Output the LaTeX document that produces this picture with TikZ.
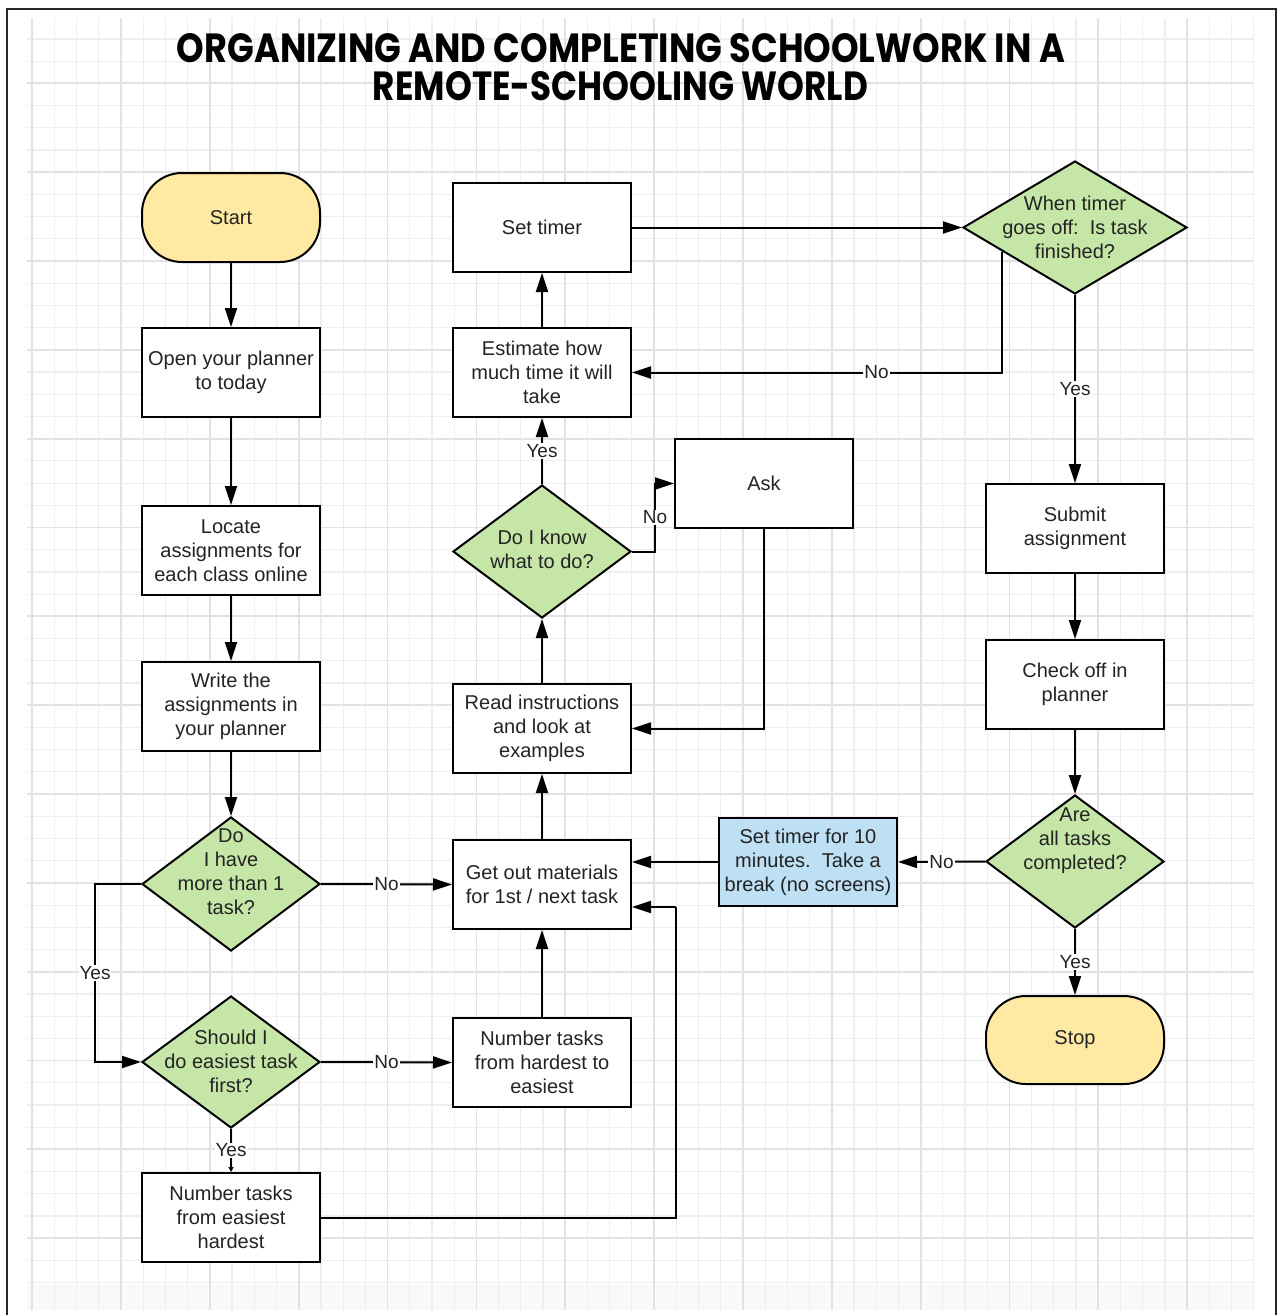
\documentclass[tikz,border=0pt]{standalone}
\usepackage{fontspec}
\setmainfont{Liberation Sans}
\newfontfamily\titlefont{Poppins}
\usetikzlibrary{shapes.geometric,arrows.meta,calc}
\definecolor{gfill}{RGB}{197,230,167}
\definecolor{yel}{RGB}{255,233,163}
\definecolor{blu}{RGB}{190,224,245}
\definecolor{txt}{RGB}{35,35,35}
\definecolor{gmin}{RGB}{238,238,238}
\definecolor{gmaj}{RGB}{226,226,226}
\begin{document}
\begin{tikzpicture}[x=1pt,y=-1pt,
  box/.style={draw=black, line width=2pt, fill=white, minimum width=178pt, minimum height=89pt, align=center, font=\fontsize{20}{24}\selectfont, text=txt, inner sep=2pt},
  term/.style={box, rounded corners=40pt, fill=yel},
  dec/.style={diamond, draw=black, line width=2pt, fill=gfill, inner sep=0pt, minimum width=178pt, minimum height=133pt},
  dtext/.style={align=center, font=\fontsize{20}{24}\selectfont, text=txt, inner sep=0pt},
  arr/.style={line width=2pt, -{Triangle[length=19pt,width=12pt]}},
  plain/.style={line width=2pt},
  lab/.style={fill=white, inner sep=1pt, font=\fontsize{19}{22}\selectfont, text=txt},
  minor/.style={gmin, line width=1.2pt},
  major/.style={gmaj, line width=1.8pt}
]
\useasboundingbox (0,0) rectangle (1279,1315);
% background grid
\fill[white] (0,0) rectangle (1279,1315);
\fill[gray!5] (27,1284) rectangle (1253,1310);
\foreach \k in {0,...,55} \draw[minor] ({32.2+22.21*\k},18) -- ({32.2+22.21*\k},1310);
\foreach \k in {0,...,56} \draw[minor] (27,{38.9+22.21*\k}) -- (1253,{38.9+22.21*\k});
\foreach \j in {0,...,13} \draw[major] ({32.2+88.84*\j},18) -- ({32.2+88.84*\j},1310);
\foreach \j in {0,...,13} \draw[major] (27,{83.3+88.84*\j}) -- (1253,{83.3+88.84*\j});
% frame
\draw[line width=2pt, black!85] (7,1316) -- (7,9) -- (1276,9) -- (1276,1316);
% title
\node (t1) at (621,48.5) {\resizebox{888pt}{29pt}{\titlefont\bfseries ORGANIZING AND COMPLETING SCHOOLWORK IN A}};
\node (t2) at (620.5,86.5) {\resizebox{495pt}{29pt}{\titlefont\bfseries REMOTE-SCHOOLING WORLD}};
% left column
\node[term] (start) at (231,217.5) {Start};
\node[box] (open) at (231,372.5) {Open your planner\\to today};
\node[box] (loc) at (231,550.5) {Locate\\assignments for\\each class online};
\node[box] (write) at (231,706.5) {Write the\\assignments in\\your planner};
\node[dec, minimum height=134pt] (d1) at (231,884) {};
\node[dtext] (d1t) at (231,872) {Do\\I have\\more than 1\\task?};
\node[dec, minimum height=132pt] (d2) at (231,1062) {};
\node[dtext] (d2t) at (231,1061) {Should I\\do easiest task\\first?};
\node[box] (ne) at (231,1217.5) {Number tasks\\from easiest\\hardest};
% middle column
\node[box] (get) at (542,884.5) {Get out materials\\for 1st / next task};
\node[box] (nh) at (542,1062.5) {Number tasks\\from hardest to\\easiest};
\node[box] (read) at (542,728.5) {Read instructions\\and look at\\examples};
\node[dec] (dk) at (542,551.5) {};
\node[dtext] (dkt) at (542,549) {Do I know\\what to do?};
\node[box] (est) at (542,372.5) {Estimate how\\much time it will\\take};
\node[box] (timer) at (542,227.5) {Set timer};
\node[box] (ask) at (764,483.5) {Ask};
\node[box, fill=blu, minimum height=88pt] (s10) at (808,862) {Set timer for 10\\minutes.\ \ Take a\\break (no screens)};
% right column
\node[dec, minimum width=224pt] (wt) at (1075,227.5) {};
\node[dtext] (wtt) at (1075,227) {When timer\\goes off:\ \ Is task\\finished?};
\node[box] (sub) at (1075,528.5) {Submit\\assignment};
\node[box] (chk) at (1075,684.5) {Check off in\\planner};
\node[dec] (are) at (1075,861.5) {};
\node[dtext] (aret) at (1075,841) {Are\\all tasks\\completed?};
\node[term, minimum height=88pt] (stop) at (1075,1040) {Stop};
% helper coordinates
\coordinate (wp) at ($(wt.west)!0.357!(wt.south)$);
\coordinate (c1) at (676,907);
% connectors
\draw[arr] (start) -- (open);
\draw[arr] (open) -- (loc);
\draw[arr] (loc) -- (write);
\draw[arr] (write) -- (d1.north);
\draw[arr] (d1.east) -- node[lab]{No} (get.west);
\draw[arr] (d1.west) -- ++(-46,0) |- node[lab,pos=0.25]{Yes} (d2.west);
\draw[arr] (d2.east) -- node[lab]{No} (nh.west);
\draw[line width=2pt, -{Triangle[length=5pt,width=5pt]}] (d2.south) -- node[lab]{Yes} (ne.north);
\draw[plain] (ne.east) -| (c1);
\draw[arr] (c1) -- (c1 -| get.east);
\draw[arr] (nh) -- (get);
\draw[arr] (get) -- (read);
\draw[arr] (read) -- (dk.south);
\draw[arr] (dk.north) -- node[lab]{Yes} (est.south);
\draw[arr] (dk.east) -- ++(23,0) |- node[lab,pos=0.25]{No} (ask.west);
\draw[arr] (ask.south) |- (read.east);
\draw[arr] (est) -- (timer);
\draw[arr] (timer.east) -- (wt.west);
\draw[arr] (wp) |- node[lab,pos=0.67]{No} (est.east);
\draw[arr] (wt.south) -- node[lab]{Yes} (sub.north);
\draw[arr] (sub) -- (chk);
\draw[arr] (chk) -- (are.north);
\draw[arr] (are.west) -- node[lab]{No} (s10.east);
\draw[arr] (s10.west) -- (s10.west -| get.east);
\draw[arr] (are.south) -- node[lab]{Yes} (stop.north);
\end{tikzpicture}
\end{document}
